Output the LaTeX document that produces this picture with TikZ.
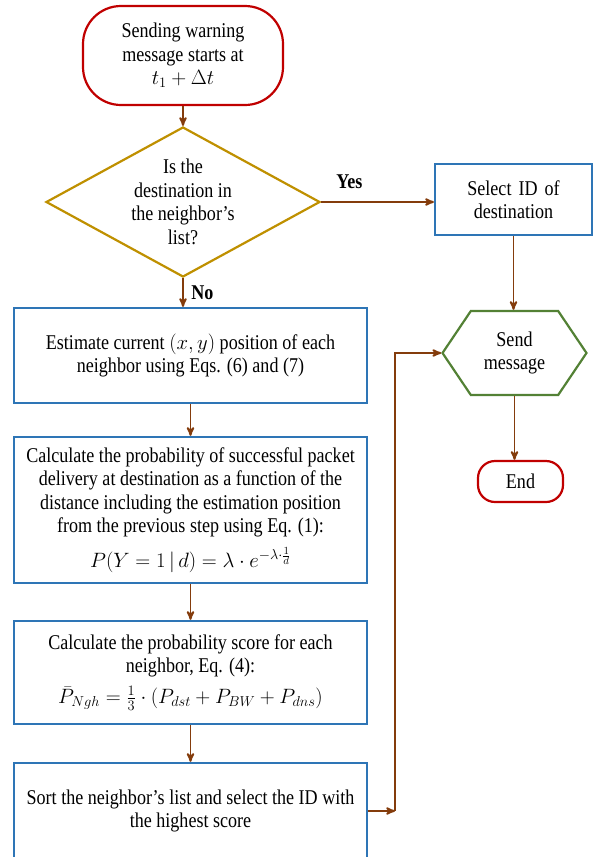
\documentclass[tikz,border=0pt]{standalone}
\usepackage{fontspec}
\setmainfont{Liberation Serif}[FakeStretch=0.86]
\usetikzlibrary{arrows,shapes.geometric,shapes.symbols}

\definecolor{flowbrown}{HTML}{843C0C}
\definecolor{termred}{HTML}{C00000}
\definecolor{decgold}{HTML}{BF9000}
\definecolor{stepblue}{HTML}{2E75B6}
\definecolor{sendgreen}{HTML}{538135}

\begin{document}
\begin{tikzpicture}[->, >=stealth', auto, semithick,
    every node/.style={font=\fontsize{21}{23.5}\selectfont, align=flush center},
    every edge/.style={draw=flowbrown, line width=1.9pt},
    term/.style={draw=termred, line width=2.2pt, rounded corners=38pt},
    decision/.style={diamond, draw=decgold, line width=2.2pt, aspect=1.83, inner sep=0pt,
                     minimum width=274pt, minimum height=150pt},
    stepbox/.style={rectangle, draw=stepblue, line width=2.2pt, text width=346pt,
                    minimum width=351pt},
    sendbox/.style={signal, signal to=west and east, signal pointer angle=112,
                    draw=sendgreen, line width=2.2pt, minimum width=144pt, minimum height=84pt}]
	\useasboundingbox (0,0) rectangle (593pt,-857pt);

	\node[term, minimum width=200pt, minimum height=99pt] (start) at (183pt,-55.5pt)
		{Sending warning\\ message starts at\\ $t_1+\Delta t$};
	\node[decision] (dest) [node distance=146.5pt, below of=start]
		{Is the\\ destination in\\ the neighbor's\\ list?};
	\node[stepbox, align=center, text width=140pt, minimum width=157pt, minimum height=71pt] (sel)
		[node distance=330.5pt, right of=dest, yshift=2.5pt] {Select ID of\\ destination};
	\node[stepbox, minimum height=95pt] (est) [node distance=153.5pt, below of=dest, xshift=7.5pt]
		{Estimate current $(x,y)$ position of each\\ neighbor using Eqs. (6) and (7)};
	\node[stepbox, minimum height=146pt] (calc) [node distance=154.5pt, below of=est]
		{Calculate the probability of successful packet\\ delivery at destination as a function of the\\
		 distance including the estimation position\\ from the previous step using Eq. (1):\\[9pt]
		 $P(Y=1\,|\,d)=\lambda\cdot e^{-\lambda\cdot\frac{1}{d}}$};
	\node[stepbox, minimum height=103pt] (score) [node distance=162.5pt, below of=calc]
		{Calculate the probability score for each\\ neighbor, Eq. (4):\\[7pt]
		 $\bar{P}_{Ngh}=\frac{1}{3}\cdot(P_{dst}+P_{BW}+P_{dns})$};
	\node[stepbox, minimum height=96pt] (sort) [node distance=138.5pt, below of=score]
		{Sort the neighbor's list and select the ID with\\ the highest score};
	\node[sendbox] (send) [node distance=153.5pt, below of=sel, xshift=1pt] {Send\\ message};
	\node[term, rounded corners=17pt, minimum width=85pt, minimum height=41pt] (stop)
		[node distance=128.5pt, below of=send, xshift=6pt] {End};
	\path (sort.east) ++(27pt,0) coordinate (bend);

	\path	(start.south) edge (start.south |- dest.north)
			(dest.east) edge node[above, pos=0.25, yshift=9pt] {\textbf{Yes}} (dest.east -| sel.west)
			(dest.south) edge node[right, xshift=4pt] {\textbf{No}} (dest.south |- est.north)
			(est.south) edge (est.south |- calc.north)
			(calc.south) edge (calc.south |- score.north)
			(score.south) edge (score.south |- sort.north)
			(sel.south) edge (sel.south |- send.north)
			(send.south) edge (send.south |- stop.north)
			(sort.east) edge (bend)
			(bend) edge[to path={|- (\tikztotarget)}] (send.west);

\end{tikzpicture}
\end{document}
